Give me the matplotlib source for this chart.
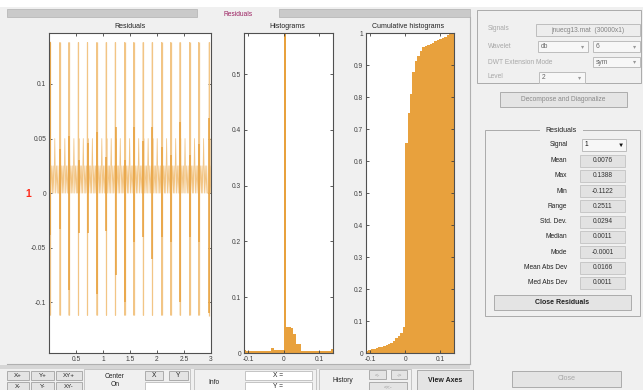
import matplotlib
matplotlib.use("Agg")
import matplotlib.pyplot as plt
import numpy as np
from matplotlib.patches import Rectangle

plt.rcParams['font.family'] = ['Liberation Sans', 'DejaVu Sans']

# ---------------- data ----------------
sig_min, sig_max = -0.1122, 0.1388

# beat positions (x in 1e4 samples) and residual spikes per beat
beat_x = [0.015, 0.201, 0.369, 0.543, 0.711, 0.886, 1.060, 1.228, 1.401,
          1.569, 1.744, 1.912, 2.086, 2.254, 2.427, 2.603, 2.771, 2.968]
beat_hi = [0.1388, 0.138, 0.138, 0.138, 0.138, 0.138, 0.138, 0.138, 0.138,
           0.138, 0.138, 0.138, 0.138, 0.138, 0.138, 0.138, 0.138, 0.138]
beat_lo = [-0.112, -0.112, -0.112, -0.112, -0.112, -0.112, -0.112, -0.112, -0.112,
           -0.112, -0.112, -0.112, -0.112, -0.112, -0.112, -0.112, -0.112, -0.1122]
dark_hi = [0.138, 0.040, 0.052, 0.030, 0.046, 0.056, 0.033, 0.061, 0.030,
           0.061, 0.048, 0.061, 0.042, 0.035, 0.065, 0.035, 0.045, 0.069]
dark_lo = [-0.038, -0.033, -0.089, -0.037, -0.037, -0.092, -0.035, -0.075, -0.100,
           -0.045, -0.040, -0.060, -0.040, -0.045, -0.100, -0.040, -0.045, -0.110]
# small oscillation between beats (offset from beat, value)
wig_dx = [0.006, 0.012, 0.020, 0.036, 0.052, 0.062, 0.076, 0.092, 0.108,
          0.122, 0.138, 0.150, 0.162]
wig_y = [0.0, 0.050, 0.0, 0.025, 0.0, 0.025, 0.0, 0.050, 0.0,
         0.025, 0.0, 0.025, 0.0]

# histogram (36 bins between min and max)
hist_vals = [0.006, 0.003, 0.003, 0.003, 0.003, 0.003, 0.003, 0.003, 0.003,
             0.003, 0.003, 0.009, 0.005, 0.005, 0.005, 0.005, 0.60, 0.047,
             0.046, 0.044, 0.034, 0.017, 0.017, 0.004, 0.003, 0.003, 0.003,
             0.003, 0.003, 0.003, 0.003, 0.003, 0.003, 0.003, 0.003, 0.007]
# cumulative histogram
cum_vals = [0.006, 0.008, 0.011, 0.013, 0.016, 0.018, 0.020, 0.023, 0.025,
            0.028, 0.030, 0.039, 0.046, 0.054, 0.062, 0.080, 0.656, 0.750,
            0.810, 0.878, 0.913, 0.929, 0.944, 0.955, 0.959, 0.963, 0.966,
            0.970, 0.974, 0.978, 0.981, 0.985, 0.989, 0.993, 0.996, 1.000]

stat_names = ["Mean", "Max", "Min", "Range", "Std. Dev.", "Median", "Mode",
              "Mean Abs Dev", "Med Abs Dev"]
stat_vals = ["0.0076", "0.1388", "-0.1122", "0.2511", "0.0294", "0.0011",
             "-0.0001", "0.0166", "0.0011"]

ORANGE = "#E8A13D"
LIGHT_OR = "#F2C585"
BG = "#F0F0F0"
W, H = 643, 390

fig = plt.figure(figsize=(W / 100, H / 100), dpi=100, facecolor="white")

# ---------------- GUI background, drawn in pixel coords ----------------
bg = fig.add_axes([0, 0, 1, 1], zorder=-1)
bg.set_xlim(0, W)
bg.set_ylim(H, 0)
bg.axis("off")


def rect(x0, y0, x1, y1, fc=BG, ec="#B4B4B4", lw=0.7):
    bg.add_patch(Rectangle((x0, y0), x1 - x0, y1 - y0, facecolor=fc,
                           edgecolor=ec, lw=lw))


def txt(x, y, s, size=4.8, color="#222222", ha="center", weight="normal"):
    bg.text(x, y, s, fontsize=size, color=color, ha=ha, va="center",
            weight=weight)


def button(x0, y0, x1, y1, s, color="#222222", weight="normal", size=4.8):
    rect(x0, y0, x1, y1, fc="#E4E4E4", ec="#ACACAC")
    txt((x0 + x1) / 2, (y0 + y1) / 2, s, size=size, color=color, weight=weight)


def popup(x0, y0, x1, y1, s, color="#999999", arrow_col="#999999", arrow="▾"):
    rect(x0, y0, x1, y1, fc="#F7F7F7", ec="#BDBDBD")
    txt(x0 + 3, (y0 + y1) / 2, s, color=color, ha="left")
    txt(x1 - 5, (y0 + y1) / 2, arrow, color=arrow_col, size=4.5)


rect(0, 7, W, H, fc=BG, ec="none")
# tab bar
rect(7, 9, 197, 17, fc="#CACACA", ec="#BEBEBE")
rect(279, 9, 470, 17, fc="#CACACA", ec="#BEBEBE")
txt(238, 14, "Residuals", size=4.8, color="#9B2060")
# left panel borders
bg.plot([470, 470], [17, 364], color="#B0B0B0", lw=0.8)
bg.plot([7, 470], [364, 364], color="#B0B0B0", lw=0.8)
rect(0, 365, 470, 369, fc="#D6D6D6", ec="none")

# plot titles and the red signal index
txt(130, 26, "Residuals", size=5)
txt(287, 26, "Histograms", size=5)
txt(408, 26, "Cumulative histograms", size=5)
txt(28, 194, "1", size=7.5, color="#FF2A1A", weight="bold")

# bottom toolbar
for i, s in enumerate(["X+", "Y+", "XY+"]):
    x0 = [7, 31, 56][i]
    x1 = [29, 54, 82][i]
    button(x0, 371, x1, 380, s, size=4.5)
    button(x0, 382, x1, 392, s.replace("+", "-"), size=4.5)
rect(84, 369, 190, 392, fc=BG, ec="#C4C4C4")
txt(115, 376, "Center", size=4.8)
txt(115, 384, "On", size=4.8)
button(145, 371, 163, 380, "X", size=4.8)
button(169, 371, 188, 380, "Y", size=4.8)
rect(145, 382, 190, 392, fc="white", ec="#C4C4C4")
rect(194, 369, 316, 392, fc=BG, ec="#C4C4C4")
txt(214, 382, "Info", size=4.8)
rect(245, 371, 312, 380, fc="white", ec="#C4C4C4")
txt(278, 375.5, "X =", size=4.8)
rect(245, 382, 312, 392, fc="white", ec="#C4C4C4")
txt(278, 386.5, "Y =", size=4.8)
rect(319, 369, 411, 392, fc=BG, ec="#C4C4C4")
txt(343, 380, "History", size=4.8)
button(369, 370, 386, 379, "<-", color="#A0A0A0", size=4.2)
button(391, 370, 407, 379, "->", color="#A0A0A0", size=4.2)
button(369, 382, 407, 392, "<<-", color="#A0A0A0", size=4.2)
button(417, 370, 473, 392, "View Axes", weight="bold", size=5)

# right panel: signal settings frame
rect(477, 10, 641, 83, fc=BG, ec="#AAAAAA")
grey = "#A8A8A8"
txt(488, 29, "Signals", color=grey, ha="left")
rect(536, 24, 640, 36, fc="#EDEDED", ec="#BDBDBD")
txt(588, 30, "jnuecg13.mat  (30000x1)", color="#858585")
txt(488, 46, "Wavelet", color=grey, ha="left")
popup(538, 41, 588, 52, "db", color="#666666")
popup(593, 41, 640, 52, "6", color="#666666")
txt(488, 62, "DWT Extension Mode", color=grey, ha="left")
popup(593, 57, 640, 67, "sym", color="#666666")
txt(488, 77, "Level", color=grey, ha="left")
popup(539, 72, 585, 83, "2", color="#666666")
button(500, 92, 627, 107, "Decompose and Diagonalize", color="#8A8A8A")

# residuals statistics frame
rect(485, 130, 640, 316, fc=BG, ec="#AAAAAA")
rect(540, 127, 583, 133, fc=BG, ec="none")
txt(561, 130, "Residuals", size=5)
txt(568, 145, "Signal", ha="right")
popup(582, 139, 626, 151, "1", color="#111111", arrow_col="#111111",
      arrow="▼")
for k, (name, val) in enumerate(zip(stat_names, stat_vals)):
    yc = 160.5 + k * 15.3
    txt(567, yc, name, ha="right")
    rect(580, yc - 6, 625, yc + 6, fc="#E2E2E2", ec="#C8C8C8")
    txt(602.5, yc, val, size=4.8, color="#333333")
button(494, 295, 631, 310, "Close Residuals", weight="bold", size=5)
button(512, 371, 621, 387, "Close", color="#A8A8A8", size=5)


# ---------------- the three axes ----------------
def add_ax(x0, x1, y0=33, y1=353):
    ax = fig.add_axes([x0 / W, 1 - y1 / H, (x1 - x0) / W, (y1 - y0) / H])
    ax.set_facecolor("white")
    ax.tick_params(direction="in", top=True, right=True, length=2.2,
                   width=0.6, labelsize=4.8, colors="#404040", pad=2)
    for sp in ax.spines.values():
        sp.set_color("#505050")
        sp.set_linewidth(0.8)
    return ax


def fmt(v):
    return ("%g" % round(v, 3))


# residual signal
ax1 = add_ax(49, 211)
xs, ys = [], []
for b, hi, lo in zip(beat_x, beat_hi, beat_lo):
    xs += [b - 0.004, b, b + 0.003]
    ys += [0.0, hi, lo]
    xs += [b + d for d in wig_dx]
    ys += wig_y
ax1.plot(xs, ys, color=LIGHT_OR, lw=0.55)
ax1.vlines(beat_x, beat_lo, beat_hi, color=LIGHT_OR, lw=0.9)
dx = [b + 0.004 for b in beat_x]
ax1.vlines(dx, 0, dark_hi, color=ORANGE, lw=1.1)
ax1.vlines(dx, dark_lo, 0, color=ORANGE, lw=1.1)
ax1.set_xlim(0, 3)
ax1.set_ylim(-0.1465, 0.1467)
xt = [0.5, 1, 1.5, 2, 2.5, 3]
yt = [-0.1, -0.05, 0, 0.05, 0.1]
ax1.set_xticks(xt, [fmt(v) for v in xt])
ax1.set_yticks(yt, [fmt(v) for v in yt])

edges = np.linspace(sig_min, sig_max, len(hist_vals) + 1)

# histogram
ax2 = add_ax(244, 333)
ax2.stairs(hist_vals, edges, fill=True, color=ORANGE)
ax2.set_xlim(sig_min, sig_max)
ax2.set_ylim(0, 0.5735)
ht = [-0.1, 0, 0.1]
ax2.set_xticks(ht, [fmt(v) for v in ht])
hy = [0, 0.1, 0.2, 0.3, 0.4, 0.5]
ax2.set_yticks(hy, [fmt(v) for v in hy])

# cumulative histogram
ax3 = add_ax(366, 454)
ax3.stairs(cum_vals, edges, fill=True, color=ORANGE)
ax3.set_xlim(sig_min, sig_max)
ax3.set_ylim(0, 1)
ax3.set_xticks(ht, [fmt(v) for v in ht])
cy = [0, 0.1, 0.2, 0.3, 0.4, 0.5, 0.6, 0.7, 0.8, 0.9, 1]
ax3.set_yticks(cy, [fmt(v) for v in cy])

fig.savefig("out.png", dpi=100, facecolor=fig.get_facecolor())
